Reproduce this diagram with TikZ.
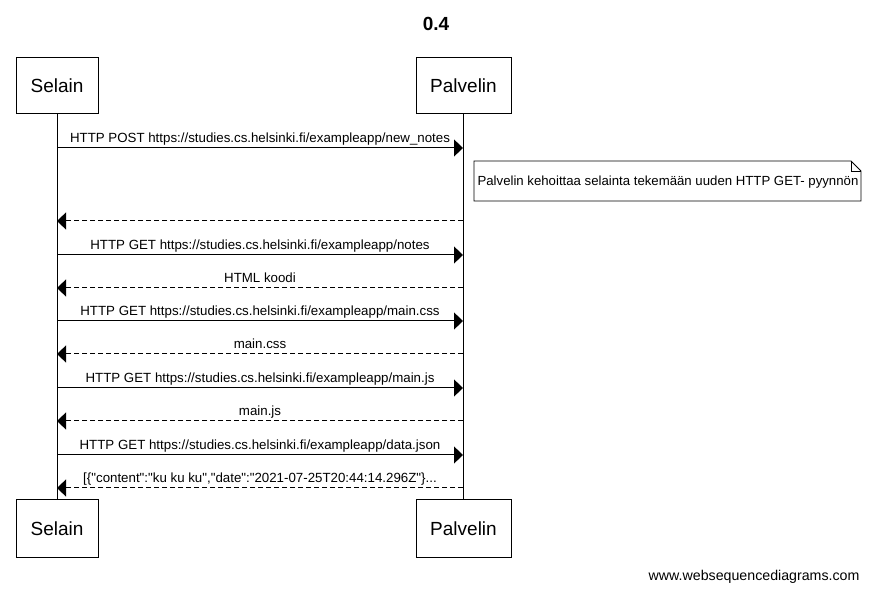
\documentclass[tikz,border=0pt]{standalone}
\usepackage{fontspec}
\setmainfont{Liberation Sans}[Ligatures=TeXOff]
\usetikzlibrary{arrows.meta}
\begin{document}
\begin{tikzpicture}[x=1pt,y=1pt,
  actor/.style={draw,line width=1pt,minimum width=82pt,minimum height=56pt,font=\fontsize{19}{22}\selectfont,inner sep=0pt},
  lifeline/.style={line width=1pt},
  msg/.style={line width=1pt,-{Triangle[length=9pt,width=17pt]}},
  reply/.style={msg,dash pattern=on 5pt off 3pt},
  lbl/.style={above=1pt,font=\fontsize{13.3}{15}\selectfont,inner sep=1pt,text height=10pt,text depth=3pt},
  notebox/.style={line width=0.8pt}
]
\useasboundingbox (0,0) rectangle (871,-593);
\fill[white] (0,0) rectangle (871,-593);
\node[font=\bfseries\fontsize{19}{22}\selectfont] (title) at (436,-24) {0.4};
\node[actor,minimum width=82pt] (sTop) at (57,-86) {Selain};
\node[actor,minimum width=95pt] (pTop) at (463.5,-86) {Palvelin};
\node[actor,minimum width=82pt,minimum height=58pt] (sBot) at (57,-529) {Selain};
\node[actor,minimum width=95pt,minimum height=58pt] (pBot) at (463.5,-529) {Palvelin};
\draw[lifeline] (sTop.south) -- (sBot.north);
\draw[lifeline] (pTop.south) -- (pBot.north);
% message coordinates
\foreach \i/\y in {1/148,2/221,3/255,4/288,5/321,6/354,7/388,8/421,9/455,10/488}{
  \coordinate (s\i) at (57,-\y);
  \coordinate (p\i) at (463,-\y);
}
\draw[msg] (s1) -- node[lbl]{HTTP POST https://studies.cs.helsinki.fi/exampleapp/new\_notes} (p1);
% note
\draw[notebox,fill=white] (474,-161) -- (851,-161) -- (861,-171) -- (861,-201) -- (474,-201) -- cycle;
\draw[notebox] (851,-161) -- (851,-171) -- (861,-171);
\node[font=\fontsize{13.2}{15}\selectfont,anchor=center] (note) at (668,-182) {Palvelin kehoittaa selainta tekemään uuden HTTP GET- pyynnön};
\draw[reply] (p2) -- (s2);
\draw[msg] (s3) -- node[lbl]{HTTP GET https://studies.cs.helsinki.fi/exampleapp/notes} (p3);
\draw[reply] (p4) -- node[lbl]{HTML koodi} (s4);
\draw[msg] (s5) -- node[lbl]{HTTP GET https://studies.cs.helsinki.fi/exampleapp/main.css} (p5);
\draw[reply] (p6) -- node[lbl]{main.css} (s6);
\draw[msg] (s7) -- node[lbl]{HTTP GET https://studies.cs.helsinki.fi/exampleapp/main.js} (p7);
\draw[reply] (p8) -- node[lbl]{main.js} (s8);
\draw[msg] (s9) -- node[lbl]{HTTP GET https://studies.cs.helsinki.fi/exampleapp/data.json} (p9);
\draw[reply] (p10) -- node[lbl]{[\{"content":"ku ku ku","date":"2021-07-25T20:44:14.296Z"\}...} (s10);
\node[anchor=east,font=\fontsize{14.2}{16}\selectfont] (footer) at (863,-577) {www.websequencediagrams.com};
\end{tikzpicture}
\end{document}
